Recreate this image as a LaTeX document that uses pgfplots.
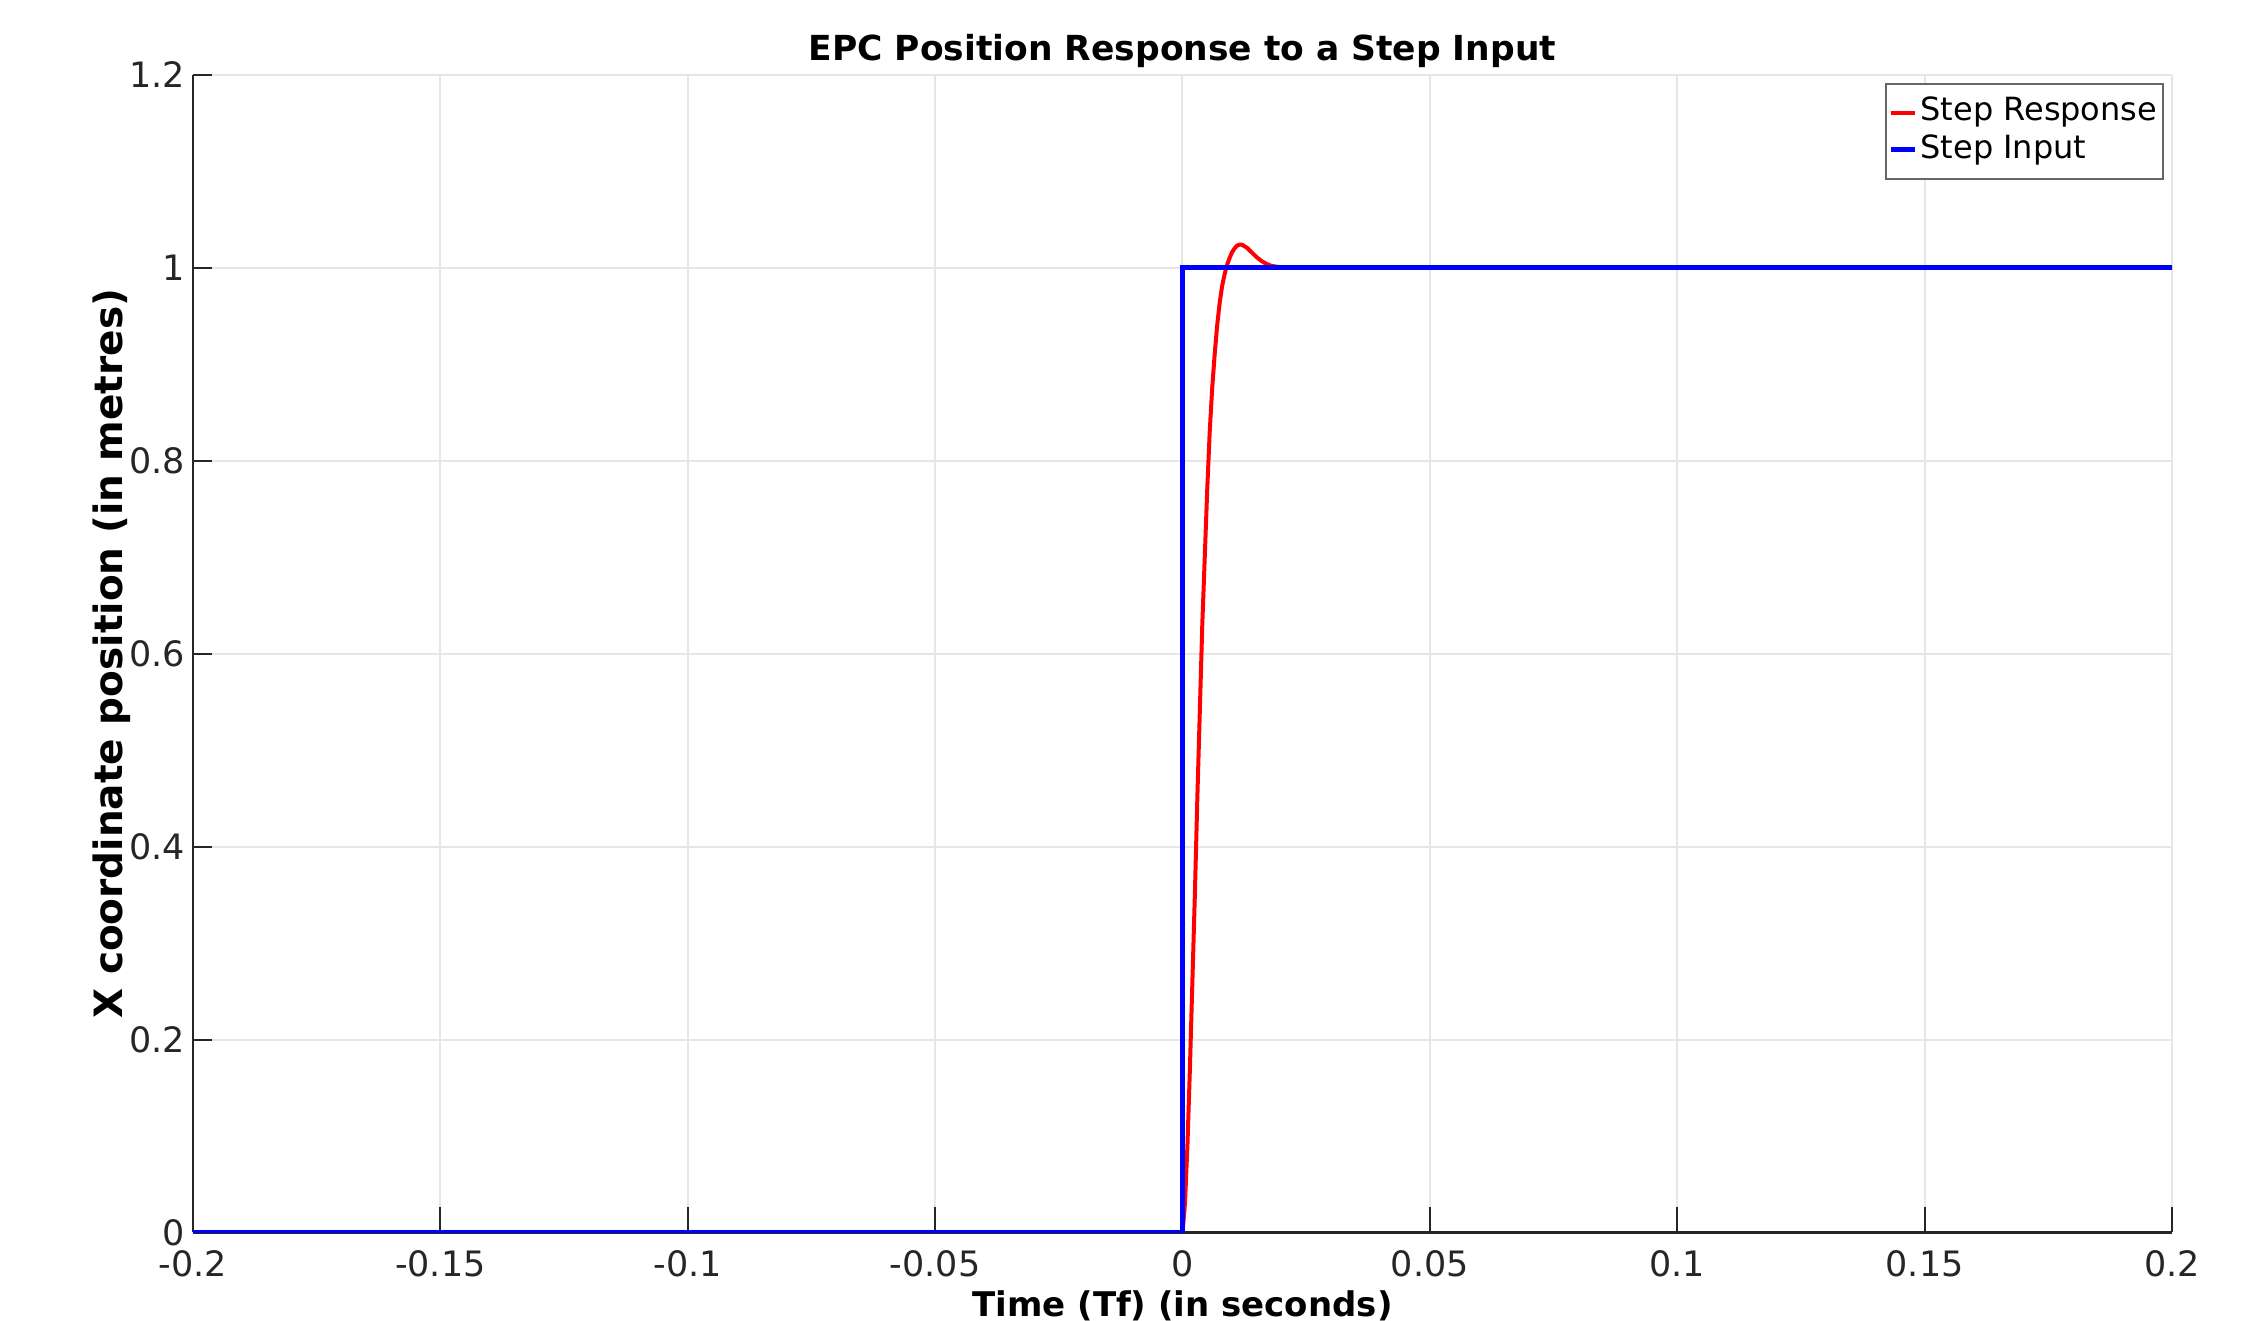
\documentclass[border=0pt]{standalone}
\usepackage{fontspec}
\setmainfont{DejaVu Sans}
\usepackage{pgfplots}
\pgfplotsset{compat=1.18}

\definecolor{axgray}{RGB}{38,38,38}
\definecolor{gridgray}{RGB}{230,230,230}

\begin{document}
\begin{tikzpicture}
  \begin{axis}[
      name=ax,
      scale only axis,
      width=396pt, height=231.6pt,
      xmin=-0.2, xmax=0.2, ymin=0, ymax=1.2,
      xtick={-0.2,-0.15,...,0.21},
      ytick={0,0.2,...,1.21},
      scaled x ticks=false, scaled y ticks=false,
      xticklabel style={/pgf/number format/fixed, /pgf/number format/precision=2},
      yticklabel style={/pgf/number format/fixed, /pgf/number format/precision=1, xshift=2pt},
      /pgf/number format/assume math mode=true,
      tick label style={font=\fontsize{7}{8}\selectfont, text=axgray},
      axis lines*=left,
      axis line style={axgray, line width=0.5pt},
      tick align=inside,
      tick style={axgray, line width=0.4pt},
      xtick style={/pgfplots/major tick length=5pt},
      ytick style={/pgfplots/major tick length=3.8pt},
      grid=major,
      major grid style={gridgray, line width=0.4pt},
      title={\bfseries EPC Position Response to a Step Input},
      title style={font=\fontsize{6.9}{8}\selectfont, yshift=-8pt},
      xlabel={\bfseries Time (Tf) (in seconds)},
      ylabel={\bfseries X coordinate position (in metres)},
      xlabel style={font=\fontsize{6.8}{8}\selectfont, yshift=4pt},
      ylabel style={font=\fontsize{7.8}{9}\selectfont, yshift=-7pt},
      legend style={at={(rel axis cs:0.996,0.993)}, anchor=north east,
        draw=black!60, line width=0.4pt, inner sep=0.6pt,
        font=\fontsize{6.4}{7}\selectfont, row sep=-2.8pt,
        nodes={inner xsep=0.6pt},
        legend cell align=left},
      legend image code/.code={\draw[#1] (0pt,0pt) -- (4.8pt,0pt);},
    ]
    \addplot[red, line width=0.8pt] coordinates {
      (0,0) (0.0005,0.03) (0.001,0.09) (0.0015,0.17) (0.002,0.26)
      (0.0025,0.35) (0.003,0.45) (0.0035,0.54) (0.004,0.63) (0.0045,0.70)
      (0.005,0.77) (0.0055,0.83) (0.006,0.875) (0.0065,0.91) (0.007,0.94)
      (0.0075,0.963) (0.008,0.981) (0.0085,0.993) (0.009,1.003) (0.0095,1.010)
      (0.010,1.016) (0.0105,1.020) (0.011,1.023) (0.0115,1.024) (0.012,1.024)
      (0.013,1.021) (0.014,1.016) (0.015,1.011) (0.016,1.007) (0.017,1.004)
      (0.018,1.002) (0.020,1.0005) (0.025,1.0) (0.2,1.0)
    };
    \addlegendentry{Step Response}
    \addplot[blue, line width=1pt] coordinates {
      (-0.2,0) (0,0) (0,1) (0.2,1)
    };
    \addlegendentry{Step Input}
  \end{axis}
  \pgfresetboundingbox
  \path[use as bounding box] ([xshift=-38.6pt,yshift=-17.6pt]ax.south west)
    rectangle ([xshift=15.6pt,yshift=15pt]ax.north east);
\end{tikzpicture}
\end{document}
